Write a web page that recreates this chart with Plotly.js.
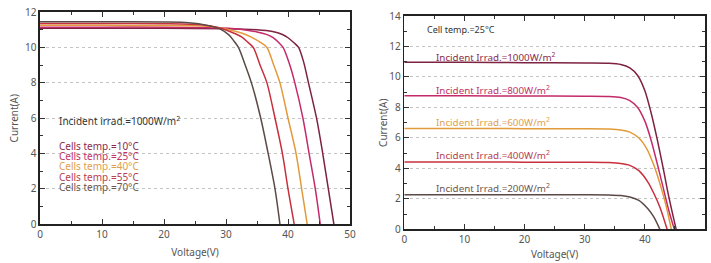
<!DOCTYPE html>
<html>
<head>
<meta charset="utf-8">
<script src="https://cdn.plot.ly/plotly-3.0.1.min.js"></script>
<style>html,body{margin:0;padding:0;background:#fff;}#chart{width:711px;height:263px;}</style>
</head>
<body>
<div id="chart"></div>
<script>
// ---- Left chart: temperature dependence (1000 W/m2) ----
const tempLabels = ["Cells temp.=10°C","Cells temp.=25°C","Cells temp.=40°C","Cells temp.=55°C","Cells temp.=70°C"];
const v10 = [0,10,20,30,35,37.5,39,40,41,41.7,42.5,43.3,44.6,45.6,46.5,47.4];
const i10 = [11.08,11.08,11.08,11.06,11.0,10.9,10.75,10.55,10.25,10.0,9.2,8.0,6.0,4.0,2.0,0];
const v25 = [0,10,20,28,32,35,36.5,37.6,38.5,39.2,40.1,41.1,42.4,43.4,44.4,45.2];
const i25 = [11.15,11.15,11.15,11.12,11.05,10.88,10.74,10.55,10.28,10.0,9.2,8.0,6.0,4.0,2.0,0];
const v40 = [0,10,20,27,30,32.5,34,35.5,36.6,37.6,38.7,40.0,41.3,42.2,43.1];
const i40 = [11.25,11.25,11.24,11.2,11.05,10.82,10.6,10.3,10.0,9.1,8.0,6.0,4.0,2.0,0];
const v55 = [0,10,20,26,29,31,32.5,33.5,34.4,35.5,36.6,37.9,39.1,40.0,41.0];
const i55 = [11.35,11.35,11.34,11.28,11.1,10.85,10.6,10.3,10.0,9.0,8.0,6.0,4.0,2.0,0];
const v70 = [0,10,20,24,27,29,30.5,31.3,32.0,33.0,34.1,35.6,36.8,37.9,38.7];
const i70 = [11.45,11.45,11.44,11.4,11.25,11.05,10.7,10.35,10.0,9.1,8.0,6.0,4.0,2.0,0];

// ---- Right chart: irradiance dependence (25 °C) ----
const irrLabels = ["Incident Irrad.=1000W/m<sup>2</sup>","Incident Irrad.=800W/m<sup>2</sup>","Incident Irrad.=600W/m<sup>2</sup>","Incident Irrad.=400W/m<sup>2</sup>","Incident Irrad.=200W/m<sup>2</sup>"];
const v1000 = [0,10,20,30,34,36,37.5,38.8,40,41,42,43,44,45.2];
const i1000 = [10.97,10.96,10.94,10.92,10.9,10.82,10.6,10.1,9.1,7.7,6.0,4.1,2.1,0];
const v800 = [0,10,20,30,34,36,37.5,38.8,40,41,42,43,44,44.9];
const i800 = [8.77,8.76,8.75,8.74,8.72,8.65,8.45,8.0,7.1,5.9,4.4,2.8,1.2,0];
const v600 = [0,10,20,30,34,36,37.5,39,40.3,41.5,42.5,43.5,44.4];
const i600 = [6.62,6.62,6.61,6.6,6.58,6.52,6.38,6.0,5.3,4.2,3.0,1.6,0];
const v400 = [0,10,20,30,34,36,37.5,39,40.5,41.5,42.5,43.7];
const i400 = [4.42,4.42,4.41,4.4,4.38,4.32,4.2,3.85,3.1,2.35,1.45,0];
const v200 = [0,10,20,30,34,36,37.5,39,40.5,41.5,42.5];
const i200 = [2.27,2.27,2.27,2.27,2.26,2.22,2.12,1.9,1.35,0.8,0];

const xTicks = [0,10,20,30,40,50];
const yTicksL = [0,2,4,6,8,10,12];
const yTicksR = [0,2,4,6,8,10,12,14];

const cols = ["#7d2240","#c42a6a","#e39a3a","#c8303e","#5b4a47"];
const labCols = ["#8a2a50","#c23066","#e0a050","#b84050","#6a5752"];

const leftSeries = [[v10,i10],[v25,i25],[v40,i40],[v55,i55],[v70,i70]];
const rightSeries = [[v1000,i1000],[v800,i800],[v600,i600],[v400,i400],[v200,i200]];

const traces = [];
leftSeries.forEach((s,k)=>traces.push({x:s[0],y:s[1],xaxis:'x',yaxis:'y',mode:'lines',
  line:{color:cols[k],width:1.5,shape:'spline',smoothing:0.8},name:tempLabels[k],showlegend:false,hoverinfo:'skip'}));
rightSeries.forEach((s,k)=>traces.push({x:s[0],y:s[1],xaxis:'x2',yaxis:'y2',mode:'lines',
  line:{color:cols[k],width:1.5,shape:'spline',smoothing:0.8},name:irrLabels[k],showlegend:false,hoverinfo:'skip'}));

const FONT = "Noto Sans, Open Sans, sans-serif";
function xax(domain, anchor, standoff){
  return {domain:domain, anchor:anchor, range:[0,50], tickvals:xTicks, ticks:'inside', ticklen:5, tickwidth:1,
    tickcolor:'#333', minor:{dtick:5, ticks:'inside', ticklen:3, tickcolor:'#333'},
    showline:true, linecolor:'#222', linewidth:1.6, mirror:'ticks', showgrid:false, zeroline:false,
    tickfont:{size:10,color:'#555',family:FONT},
    title:{text:'Voltage(V)', font:{size:10,color:'#555',family:FONT}, standoff:standoff}};
}
function yax(domain, anchor, range, ticks, standoff){
  return {domain:domain, anchor:anchor, range:range, tickvals:ticks, ticks:'inside', ticklen:5, tickwidth:1,
    tickcolor:'#333', minor:{dtick:1, ticks:'inside', ticklen:3, tickcolor:'#333', showgrid:false},
    showline:true, linecolor:'#222', linewidth:1.6, mirror:'ticks', showgrid:true, gridcolor:'#c4c4c4',
    griddash:'3px,3px', gridwidth:1, zeroline:false,
    tickfont:{size:10,color:'#555',family:FONT},
    title:{text:'Current(A)', font:{size:10,color:'#555',family:FONT}, standoff:standoff}};
}

const ann = [];
ann.push({xref:'x',yref:'y',x:2.7,y:5.84,xanchor:'left',yanchor:'middle',showarrow:false,
  text:'Incident irrad.=1000W/m<sup>2</sup>',font:{size:10,color:'#333',family:FONT}});
const tempY = [4.44,3.86,3.28,2.70,2.12];
tempLabels.forEach((t,k)=>ann.push({xref:'x',yref:'y',x:2.7,y:tempY[k],xanchor:'left',yanchor:'middle',
  showarrow:false,text:t,font:{size:10,color:labCols[k],family:FONT}}));
ann.push({xref:'x2',yref:'y2',x:3.5,y:13.12,xanchor:'left',yanchor:'middle',showarrow:false,
  text:'Cell temp.=25°C',font:{size:9,color:'#333',family:FONT}});
const irrY = [11.33,9.14,7.06,4.88,2.69];
irrLabels.forEach((t,k)=>ann.push({xref:'x2',yref:'y2',x:4.9,y:irrY[k],xanchor:'left',yanchor:'middle',
  showarrow:false,text:t,font:{size:9.8,color:labCols[k],family:FONT}}));

const layout = {
  width:711, height:263, margin:{l:0,r:0,t:0,b:0}, paper_bgcolor:'#fff', plot_bgcolor:'#fff',
  showlegend:false,
  xaxis: xax([0.0563,0.4923],'y',9),
  yaxis: yax([0.147,0.954],'x',[0,12],yTicksL,4),
  xaxis2: xax([0.5686,0.9916],'y2',6),
  yaxis2: yax([0.128,0.939],'x2',[0,14],yTicksR,0),
  annotations: ann
};
Plotly.newPlot('chart', traces, layout, {staticPlot:true, displayModeBar:false});
</script>
</body>
</html>
